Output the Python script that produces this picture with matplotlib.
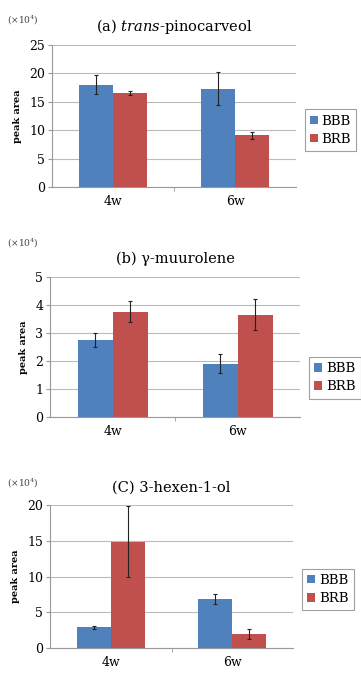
import numpy as np
import matplotlib
matplotlib.use("Agg")
import matplotlib.pyplot as plt

plt.rcParams['font.family'] = ['DejaVu Serif']
plt.rcParams['mathtext.fontset'] = 'dejavuserif'

weeks = ["4w", "6w"]
series = ["BBB", "BRB"]

titles = [r"(a) $\mathit{trans}$-pinocarveol", "(b) γ-muurolene", "(C) 3-hexen-1-ol"]
ymaxes = [25, 5, 20]
ysteps = [5, 1, 5]

# values (x10^4)
bbb_vals = [[18.0, 17.3], [2.75, 1.9], [2.9, 6.8]]
bbb_errs = [[1.7, 2.95], [0.25, 0.33], [0.25, 0.7]]
brb_vals = [[16.5, 9.1], [3.75, 3.65], [14.9, 2.0]]
brb_errs = [[0.4, 0.6], [0.37, 0.55], [5.0, 0.7]]

colors = ["#4F81BD", "#C0504D"]

fig = plt.figure(figsize=(3.61, 6.8), dpi=100)

# axes rects in figure fractions
rects = [
    [0.144, 0.725, 0.676, 0.209],
    [0.139, 0.387, 0.692, 0.206],
    [0.139, 0.047, 0.673, 0.210],
]
legend_y = [0.40, 0.28, 0.41]
unit_y = [20, 243, 483]

x = np.arange(len(weeks))
w = 0.28

for i in range(3):
    ax = fig.add_axes(rects[i])
    b1 = ax.bar(x - w / 2, bbb_vals[i], w, color=colors[0], label=series[0], zorder=3)
    b2 = ax.bar(x + w / 2, brb_vals[i], w, color=colors[1], label=series[1], zorder=3)
    ax.errorbar(x - w / 2, bbb_vals[i], yerr=bbb_errs[i], fmt="none", ecolor="#222222",
                elinewidth=0.8, capsize=1.5, capthick=0.8, zorder=4)
    ax.errorbar(x + w / 2, brb_vals[i], yerr=brb_errs[i], fmt="none", ecolor="#222222",
                elinewidth=0.8, capsize=1.5, capthick=0.8, zorder=4)

    ax.set_xlim(-0.5, 1.5)
    ax.set_ylim(0, ymaxes[i])
    ax.set_yticks(np.arange(0, ymaxes[i] + 0.01, ysteps[i]))
    ax.set_xticks(x)
    ax.set_xticklabels(weeks, fontsize=9)
    ax.set_xticks([0.5], minor=True)
    ax.tick_params(axis="x", which="major", length=0, pad=6)
    ax.tick_params(axis="x", which="minor", length=3, color="#999999")
    ax.tick_params(axis="y", length=3, color="#999999", labelsize=9, pad=2)

    ax.yaxis.grid(True, color="#BBBBBB", linewidth=0.8, zorder=0)
    ax.set_axisbelow(True)
    for s in ["top", "right"]:
        ax.spines[s].set_visible(False)
    ax.spines["left"].set_color("#999999")
    ax.spines["bottom"].set_color("#999999")

    ax.set_ylabel("peak area", fontsize=7, fontweight="bold", labelpad=5)
    ax.set_title(titles[i], fontsize=10.5, pad=10)
    fig.text(7 / 361, 1 - unit_y[i] / 680, r"($\times$10$^4$)", fontsize=6.5,
             color="#444444", va="center", ha="left")

    leg = ax.legend(handles=[b1, b2], loc="center left", bbox_to_anchor=(1.035, legend_y[i]),
                    fontsize=9.5, frameon=True, fancybox=False, handlelength=0.6,
                    handleheight=0.6, handletextpad=0.3, borderpad=0.4,
                    labelspacing=0.4, borderaxespad=0)
    leg.get_frame().set_edgecolor("#888888")
    leg.get_frame().set_linewidth(0.8)

fig.savefig("out.png", dpi=100)
